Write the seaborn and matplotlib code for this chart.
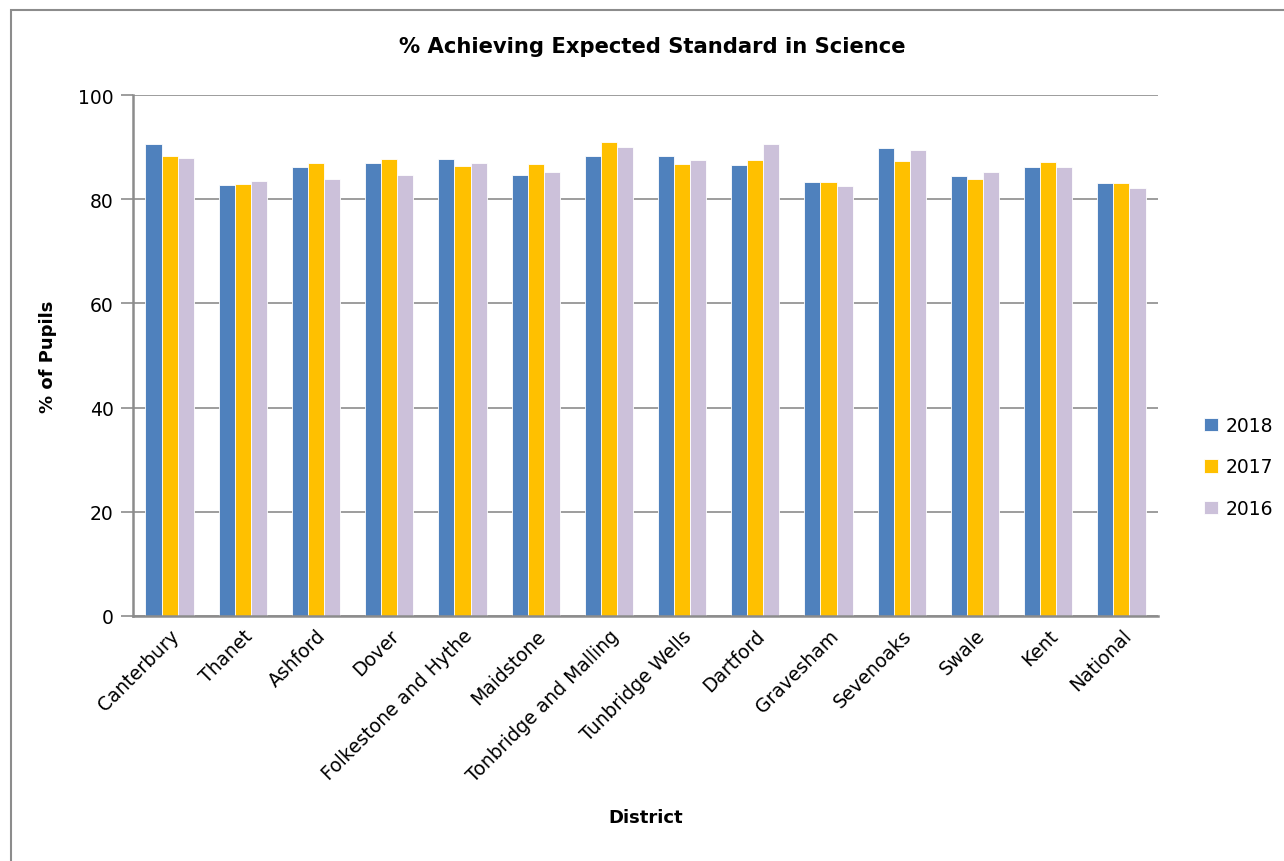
import pandas as pd
import numpy as np
import matplotlib.pyplot as plt
import seaborn as sns
from matplotlib.patches import Rectangle

# values
districts = ['Canterbury', 'Thanet', 'Ashford', 'Dover', 'Folkestone and Hythe',
             'Maidstone', 'Tonbridge and Malling', 'Tunbridge Wells', 'Dartford',
             'Gravesham', 'Sevenoaks', 'Swale', 'Kent', 'National']
years = ['2018', '2017', '2016']
pct_2018 = [90.6, 82.7, 86.2, 87.0, 87.7, 84.6, 88.2, 88.3, 86.5, 83.3, 89.8, 84.5, 86.1, 83.2]
pct_2017 = [88.3, 83.0, 87.0, 87.7, 86.3, 86.7, 91.0, 86.7, 87.5, 83.3, 87.3, 83.9, 87.1, 83.2]
pct_2016 = [87.9, 83.4, 83.9, 84.7, 87.0, 85.3, 90.0, 87.5, 90.5, 82.6, 89.4, 85.3, 86.2, 82.1]
colours = ['#4F81BD', '#FFC000', '#CCC1DA']

df = pd.DataFrame({'District': districts * 3,
                   'Year': np.repeat(years, len(districts)),
                   'Pct': pct_2018 + pct_2017 + pct_2016})

sns.set_style('white')
plt.rcParams['font.family'] = ['DejaVu Sans']
plt.rcParams['text.color'] = 'black'
plt.rcParams['axes.labelcolor'] = 'black'
plt.rcParams['xtick.color'] = 'black'
plt.rcParams['ytick.color'] = 'black'

fig = plt.figure(figsize=(12.84, 8.62), dpi=100)
ax = fig.add_axes([133 / 1284, 1 - 617 / 862, (1158 - 133) / 1284, (617 - 96) / 862])

sns.barplot(data=df, x='District', y='Pct', hue='Year', hue_order=years,
            palette=colours, saturation=1, width=0.66, ax=ax,
            edgecolor='white', linewidth=0.6)

grey = '#8C8C8C'
ax.set_ylim(0, 100)
ax.set_xlim(-0.5, len(districts) - 0.5)
ax.set_yticks(range(0, 101, 20))
ax.yaxis.grid(True, color=grey, linewidth=1.2)
ax.set_axisbelow(True)
for side in ['top', 'right']:
    ax.spines[side].set_visible(False)
for side in ['left', 'bottom']:
    ax.spines[side].set_color(grey)
    ax.spines[side].set_linewidth(1.8)

# category labels at centres, tick marks at the boundaries
ax.set_xticks(range(len(districts)))
ax.set_xticklabels(districts, rotation=45, ha='right', rotation_mode='anchor', fontsize=13.5)
ax.tick_params(axis='x', which='major', length=0, pad=7)
ax.set_xticks(np.arange(-0.5, len(districts), 1), minor=True)
ax.tick_params(axis='x', which='minor', length=6, width=1.2, color=grey, direction='out')
ax.tick_params(axis='y', length=9, width=1.2, color=grey, direction='out', labelsize=13.5,
               left=True, pad=5)

ax.set_xlabel('District', fontsize=13, fontweight='bold')
ax.xaxis.set_label_coords(0.5, -(809 - 617) / (617 - 96))
ax.set_ylabel('% of Pupils', fontsize=13, fontweight='bold')
ax.yaxis.set_label_coords(-(133 - 57) / (1158 - 133), 0.5)

fig.text(652 / 1284, 1 - 47 / 862, '% Achieving Expected Standard in Science',
         ha='center', va='center', fontsize=15.2, fontweight='bold')

handles, labels = ax.get_legend_handles_labels()
ax.legend(handles, labels, loc='center left', bbox_to_anchor=(1204 / 1284, 1 - 468 / 862),
          bbox_transform=fig.transFigure, frameon=False, fontsize=13.5,
          borderpad=0, borderaxespad=0,
          handlelength=0.75, handleheight=0.75, handletextpad=0.4, labelspacing=1.2)

# outer chart border
fig.patches.append(Rectangle((11 / 1284, -0.01), 1.0, 1 - 11 / 862 + 0.01,
                             transform=fig.transFigure, fill=False,
                             edgecolor=grey, linewidth=1.5))

fig.savefig('out.png', dpi=100)
